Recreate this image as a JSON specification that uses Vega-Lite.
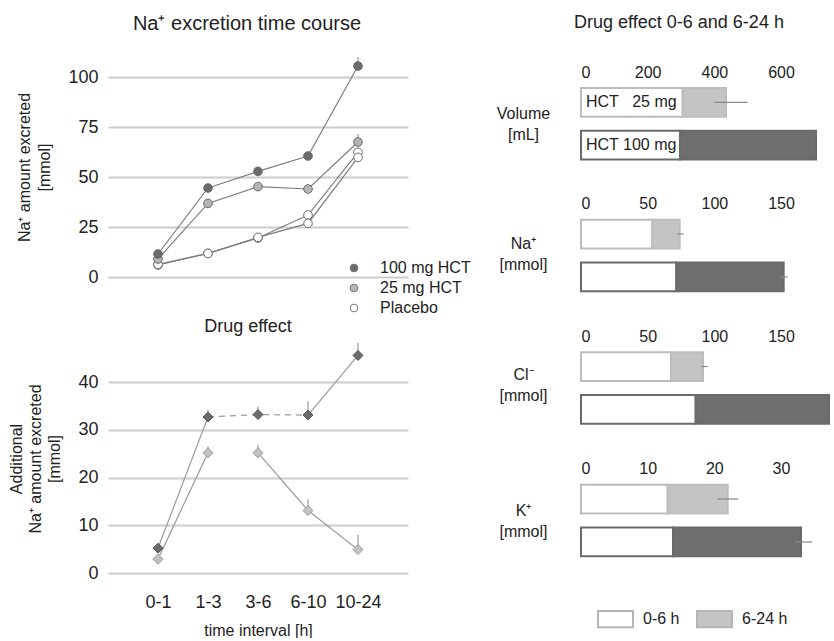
{
  "$schema": "https://vega.github.io/schema/vega-lite/v6.json",
  "padding": {"left": 8, "top": 14, "right": 0, "bottom": 0},
  "spacing": 25,
  "config": {
    "font": "Liberation Sans",
    "view": {"stroke": null},
    "title": {"color": "#222", "fontWeight": "normal", "font": "Liberation Sans"},
    "axis": {"labelColor": "#222", "titleColor": "#222", "labelFont": "Liberation Sans", "titleFont": "Liberation Sans", "titleFontWeight": "normal"},
    "legend": {"labelColor": "#222", "labelFont": "Liberation Sans"}
  },
  "datasets": {
    "tc": [
      {"t": "0-1", "s": "Placebo", "id": "p1", "v": 6.0, "hi": 6.0},
      {"t": "1-3", "s": "Placebo", "id": "p1", "v": 11.8, "hi": 11.8},
      {"t": "3-6", "s": "Placebo", "id": "p1", "v": 19.5, "hi": 19.5},
      {"t": "6-10", "s": "Placebo", "id": "p1", "v": 31.0, "hi": 31.0},
      {"t": "10-24", "s": "Placebo", "id": "p1", "v": 62.3, "hi": 62.3},
      {"t": "0-1", "s": "Placebo", "id": "p2", "v": 6.3, "hi": 6.3},
      {"t": "1-3", "s": "Placebo", "id": "p2", "v": 11.8, "hi": 11.8},
      {"t": "3-6", "s": "Placebo", "id": "p2", "v": 19.8, "hi": 19.8},
      {"t": "6-10", "s": "Placebo", "id": "p2", "v": 26.8, "hi": 26.8},
      {"t": "10-24", "s": "Placebo", "id": "p2", "v": 59.8, "hi": 59.8},
      {"t": "0-1", "s": "25 mg HCT", "id": "h25", "v": 9.0, "hi": 9.0},
      {"t": "1-3", "s": "25 mg HCT", "id": "h25", "v": 36.8, "hi": 36.8},
      {"t": "3-6", "s": "25 mg HCT", "id": "h25", "v": 45.2, "hi": 45.2},
      {"t": "6-10", "s": "25 mg HCT", "id": "h25", "v": 44.0, "hi": 44.0},
      {"t": "10-24", "s": "25 mg HCT", "id": "h25", "v": 67.5, "hi": 71.5},
      {"t": "0-1", "s": "100 mg HCT", "id": "h100", "v": 11.5, "hi": 11.5},
      {"t": "1-3", "s": "100 mg HCT", "id": "h100", "v": 44.5, "hi": 44.5},
      {"t": "3-6", "s": "100 mg HCT", "id": "h100", "v": 52.8, "hi": 52.8},
      {"t": "6-10", "s": "100 mg HCT", "id": "h100", "v": 60.5, "hi": 60.5},
      {"t": "10-24", "s": "100 mg HCT", "id": "h100", "v": 105.5, "hi": 110.0}
    ],
    "de": [
      {"t": "0-1", "g": "25 mg", "v": 2.9, "hi": 2.9},
      {"t": "1-3", "g": "25 mg", "v": 25.2, "hi": 26.5},
      {"t": "3-6", "g": "25 mg", "v": 25.2, "hi": 26.9},
      {"t": "6-10", "g": "25 mg", "v": 13.1, "hi": 15.4},
      {"t": "10-24", "g": "25 mg", "v": 4.9, "hi": 8.0},
      {"t": "0-1", "g": "100 mg", "v": 5.2, "hi": 5.2},
      {"t": "1-3", "g": "100 mg", "v": 32.7, "hi": 34.2},
      {"t": "3-6", "g": "100 mg", "v": 33.2, "hi": 34.9},
      {"t": "6-10", "g": "100 mg", "v": 33.1, "hi": 36.0},
      {"t": "10-24", "g": "100 mg", "v": 45.6, "hi": 48.2}
    ],
    "del": [
      {"t": "0-1", "seg": "a", "style": "solid", "v": 5.2},
      {"t": "1-3", "seg": "a", "style": "solid", "v": 32.7},
      {"t": "1-3", "seg": "b", "style": "dashed", "v": 32.7},
      {"t": "3-6", "seg": "b", "style": "dashed", "v": 33.2},
      {"t": "6-10", "seg": "b", "style": "dashed", "v": 33.1},
      {"t": "6-10", "seg": "c", "style": "solid", "v": 33.1},
      {"t": "10-24", "seg": "c", "style": "solid", "v": 45.6},
      {"t": "0-1", "seg": "d", "style": "solid", "v": 2.9},
      {"t": "1-3", "seg": "d", "style": "solid", "v": 25.2},
      {"t": "3-6", "seg": "e", "style": "solid", "v": 25.2},
      {"t": "6-10", "seg": "e", "style": "solid", "v": 13.1},
      {"t": "10-24", "seg": "e", "style": "solid", "v": 4.9}
    ],
    "bars": [
      {"p": "Volume", "dose": "25 mg", "cat": "0-6 h", "x0": 0, "x1": 305},
      {"p": "Volume", "dose": "25 mg", "cat": "6-24 h", "x0": 305, "x1": 435},
      {"p": "Volume", "dose": "100 mg", "cat": "0-6 h", "x0": 0, "x1": 297},
      {"p": "Volume", "dose": "100 mg", "cat": "6-24 h, 100 mg", "x0": 297, "x1": 705},
      {"p": "Na", "dose": "25 mg", "cat": "0-6 h", "x0": 0, "x1": 53.5},
      {"p": "Na", "dose": "25 mg", "cat": "6-24 h", "x0": 53.5, "x1": 74},
      {"p": "Na", "dose": "100 mg", "cat": "0-6 h", "x0": 0, "x1": 71.5},
      {"p": "Na", "dose": "100 mg", "cat": "6-24 h, 100 mg", "x0": 71.5, "x1": 152},
      {"p": "Cl", "dose": "25 mg", "cat": "0-6 h", "x0": 0, "x1": 67.5},
      {"p": "Cl", "dose": "25 mg", "cat": "6-24 h", "x0": 67.5, "x1": 91.5},
      {"p": "Cl", "dose": "100 mg", "cat": "0-6 h", "x0": 0, "x1": 86},
      {"p": "Cl", "dose": "100 mg", "cat": "6-24 h, 100 mg", "x0": 86, "x1": 186},
      {"p": "K", "dose": "25 mg", "cat": "0-6 h", "x0": 0, "x1": 13},
      {"p": "K", "dose": "25 mg", "cat": "6-24 h", "x0": 13, "x1": 22},
      {"p": "K", "dose": "100 mg", "cat": "0-6 h", "x0": 0, "x1": 13.8},
      {"p": "K", "dose": "100 mg", "cat": "6-24 h, 100 mg", "x0": 13.8, "x1": 33}
    ],
    "errs": [
      {"p": "Volume", "dose": "25 mg", "lo": 400, "hi": 500},
      {"p": "Na", "dose": "25 mg", "lo": 72, "hi": 77},
      {"p": "Na", "dose": "100 mg", "lo": 150, "hi": 155},
      {"p": "Cl", "dose": "25 mg", "lo": 90, "hi": 95},
      {"p": "K", "dose": "25 mg", "lo": 20.5, "hi": 23.6},
      {"p": "K", "dose": "100 mg", "lo": 32, "hi": 34.7}
    ],
    "labs": [
      {"dose": "25 mg", "label": "HCT\u00a0\u00a0\u00a025 mg"},
      {"dose": "100 mg", "label": "HCT 100 mg"}
    ]
  },
  "resolve": {"scale": {"fill": "independent", "stroke": "independent", "strokeDash": "independent"}, "legend": {"fill": "independent", "stroke": "independent"}},
  "hconcat": [
    {
      "spacing": 2,
      "resolve": {"scale": {"fill": "independent", "stroke": "independent"}, "legend": {"fill": "independent", "stroke": "independent"}},
      "vconcat": [
        {
          "title": {"text": "Na⁺ excretion time course", "fontSize": 20, "frame": "group", "dx": -11, "offset": 22},
          "width": 300,
          "height": 220,
          "data": {"name": "tc"},
          "encoding": {
            "x": {"field": "t", "type": "ordinal", "sort": ["0-1", "1-3", "3-6", "6-10", "10-24"], "scale": {"type": "point", "padding": 1.06}, "axis": null},
            "y": {"field": "v", "type": "quantitative", "scale": {"domain": [0, 110], "nice": false},
              "axis": {"values": [0, 25, 50, 75, 100], "grid": true, "gridColor": "#cccccc", "gridWidth": 2, "domain": false, "ticks": false, "labelFontSize": 18, "labelPadding": 10, "title": ["Na⁺ amount excreted", "[mmol]"], "titleFontSize": 16, "titlePadding": 15, "titleLineHeight": 20}}
          },
          "layer": [
            {"mark": {"type": "line", "color": "#7d7d7d", "strokeWidth": 1.2}, "encoding": {"detail": {"field": "id"}}},
            {"transform": [{"filter": "datum.hi > datum.v"}], "mark": {"type": "rule", "color": "#9a9a9a", "strokeWidth": 1.2}, "encoding": {"y2": {"field": "hi"}}},
            {"mark": {"type": "point", "filled": true, "size": 75, "stroke": "#6a6a6a", "strokeWidth": 1, "opacity": 1},
              "encoding": {"fill": {"field": "s", "type": "nominal", "scale": {"domain": ["100 mg HCT", "25 mg HCT", "Placebo"], "range": ["#6b6b6b", "#b5b5b5", "#ffffff"]},
                "legend": {"title": null, "orient": "none", "legendX": 238, "legendY": 203, "labelFontSize": 16, "symbolType": "circle", "symbolSize": 60, "symbolStrokeColor": "#777777", "symbolStrokeWidth": 1, "labelOffset": 18, "rowPadding": 4, "padding": 0}}}}
          ]
        },
        {
          "title": {"text": "Drug effect", "fontSize": 18, "frame": "group", "dx": -10, "offset": 6},
          "width": 300,
          "height": 229,
          "encoding": {
            "x": {"field": "t", "type": "ordinal", "sort": ["0-1", "1-3", "3-6", "6-10", "10-24"], "scale": {"type": "point", "padding": 1.06},
              "axis": {"labelFontSize": 18, "labelPadding": 20, "labelAngle": 0, "domain": false, "ticks": false, "grid": false, "title": "time interval [h]", "titleFontSize": 16, "titlePadding": 11}},
            "y": {"field": "v", "type": "quantitative", "scale": {"domain": [0, 48], "nice": false},
              "axis": {"values": [0, 10, 20, 30, 40], "grid": true, "gridColor": "#cccccc", "gridWidth": 2, "domain": false, "ticks": false, "labelFontSize": 18, "labelPadding": 10, "title": ["Additional", "Na⁺ amount excreted", "[mmol]"], "titleFontSize": 16, "titlePadding": 15, "titleLineHeight": 19}}
          },
          "layer": [
            {"data": {"name": "del"}, "mark": {"type": "line", "color": "#9a9a9a", "strokeWidth": 1.2},
              "encoding": {"detail": {"field": "seg"}, "strokeDash": {"field": "style", "type": "nominal", "scale": {"domain": ["solid", "dashed"], "range": [[1, 0], [6, 5]]}, "legend": null}}},
            {"data": {"name": "de"}, "transform": [{"filter": "datum.hi > datum.v"}], "mark": {"type": "rule", "color": "#9a9a9a", "strokeWidth": 1.2}, "encoding": {"y2": {"field": "hi"}}},
            {"data": {"name": "de"}, "mark": {"type": "point", "shape": "diamond", "filled": true, "size": 100, "opacity": 1, "strokeWidth": 1},
              "encoding": {
                "fill": {"field": "g", "type": "nominal", "scale": {"domain": ["100 mg", "25 mg"], "range": ["#6b6b6b", "#c2c2c2"]}, "legend": null},
                "stroke": {"field": "g", "type": "nominal", "scale": {"domain": ["100 mg", "25 mg"], "range": ["#555555", "#9a9a9a"]}, "legend": null}}}
          ]
        }
      ]
    },
    {
      "spacing": 34.5,
      "resolve": {"scale": {"fill": "independent", "stroke": "independent"}, "legend": {"fill": "independent", "stroke": "independent"}},
      "vconcat": [
        {
          "title": {"text": "Drug effect 0-6 and 6-24 h", "fontSize": 18, "frame": "group", "dx": -27, "offset": 25},
          "width": 250, "height": 102.6,
          "encoding": {"y": {"field": "dose", "type": "nominal", "sort": ["25 mg", "100 mg"], "scale": {"domain": ["25 mg", "100 mg"], "paddingInner": 0.33, "paddingOuter": 0.361, "align": 1},
            "axis": {"title": ["Volume", "[mL]"], "titleAngle": 0, "titleAlign": "center", "titleBaseline": "middle", "titlePadding": 37, "titleY": 56, "labels": false, "ticks": false, "domain": false, "titleFontSize": 16, "titleLineHeight": 21}}},
          "layer": [
            {"data": {"name": "bars"}, "transform": [{"filter": "datum.p === 'Volume'"}], "mark": {"type": "bar", "strokeWidth": 2},
              "encoding": {
                "x": {"field": "x0", "type": "quantitative", "scale": {"domain": [0, 750], "nice": false}, "axis": {"orient": "top", "offset": -29, "values": [0, 200, 400, 600], "grid": false, "domain": false, "ticks": false, "labelFontSize": 16, "labelPadding": 6, "title": null}},
                "x2": {"field": "x1"},
                "fill": {"field": "cat", "type": "nominal", "scale": {"domain": ["0-6 h", "6-24 h", "6-24 h, 100 mg"], "range": ["#ffffff", "#c4c4c4", "#6e6e6e"]}, "legend": null},
                "stroke": {"field": "dose", "type": "nominal", "scale": {"domain": ["25 mg", "100 mg"], "range": ["#bdbdbd", "#6a6a6a"]}, "legend": null}}},
            {"data": {"name": "errs"}, "transform": [{"filter": "datum.p === 'Volume'"}], "mark": {"type": "rule", "color": "#8a8a8a", "strokeWidth": 1.2},
              "encoding": {"x": {"field": "lo", "type": "quantitative", "axis": {"orient": "top", "offset": -29, "values": [0, 200, 400, 600], "grid": false, "domain": false, "ticks": false, "labelFontSize": 16, "labelPadding": 6, "title": null}}, "x2": {"field": "hi"}}},
            {"data": {"name": "labs"}, "mark": {"type": "text", "align": "left", "dx": 5, "fontSize": 16, "color": "#222"},
              "encoding": {"x": {"datum": 0, "type": "quantitative"}, "text": {"field": "label"}}}
          ]
        },
        {
          "width": 250, "height": 76,
          "encoding": {"y": {"field": "dose", "type": "nominal", "sort": ["25 mg", "100 mg"], "scale": {"domain": ["25 mg", "100 mg"], "paddingInner": 0.33, "paddingOuter": 0.05},
            "axis": {"title": ["Na⁺", "[mmol]"], "titleAngle": 0, "titleAlign": "center", "titleBaseline": "middle", "titlePadding": 37, "titleY": 26, "labels": false, "ticks": false, "domain": false, "titleFontSize": 16, "titleLineHeight": 21}}},
          "layer": [
            {"data": {"name": "bars"}, "transform": [{"filter": "datum.p === 'Na'"}], "mark": {"type": "bar", "strokeWidth": 2},
              "encoding": {
                "x": {"field": "x0", "type": "quantitative", "scale": {"domain": [0, 187.5], "nice": false}, "axis": {"orient": "top", "values": [0, 50, 100, 150], "grid": false, "domain": false, "ticks": false, "labelFontSize": 16, "labelPadding": 6, "title": null}},
                "x2": {"field": "x1"},
                "fill": {"field": "cat", "type": "nominal", "scale": {"domain": ["0-6 h", "6-24 h", "6-24 h, 100 mg"], "range": ["#ffffff", "#c4c4c4", "#6e6e6e"]}, "legend": null},
                "stroke": {"field": "dose", "type": "nominal", "scale": {"domain": ["25 mg", "100 mg"], "range": ["#bdbdbd", "#6a6a6a"]}, "legend": null}}},
            {"data": {"name": "errs"}, "transform": [{"filter": "datum.p === 'Na'"}], "mark": {"type": "rule", "color": "#8a8a8a", "strokeWidth": 1.2},
              "encoding": {"x": {"field": "lo", "type": "quantitative", "axis": {"orient": "top", "values": [0, 50, 100, 150], "grid": false, "domain": false, "ticks": false, "labelFontSize": 16, "labelPadding": 6, "title": null}}, "x2": {"field": "hi"}}}
          ]
        },
        {
          "width": 250, "height": 76,
          "encoding": {"y": {"field": "dose", "type": "nominal", "sort": ["25 mg", "100 mg"], "scale": {"domain": ["25 mg", "100 mg"], "paddingInner": 0.33, "paddingOuter": 0.05},
            "axis": {"title": ["Cl⁻", "[mmol]"], "titleAngle": 0, "titleAlign": "center", "titleBaseline": "middle", "titlePadding": 37, "titleY": 24, "labels": false, "ticks": false, "domain": false, "titleFontSize": 16, "titleLineHeight": 21}}},
          "layer": [
            {"data": {"name": "bars"}, "transform": [{"filter": "datum.p === 'Cl'"}], "mark": {"type": "bar", "strokeWidth": 2},
              "encoding": {
                "x": {"field": "x0", "type": "quantitative", "scale": {"domain": [0, 187.5], "nice": false}, "axis": {"orient": "top", "values": [0, 50, 100, 150], "grid": false, "domain": false, "ticks": false, "labelFontSize": 16, "labelPadding": 6, "title": null}},
                "x2": {"field": "x1"},
                "fill": {"field": "cat", "type": "nominal", "scale": {"domain": ["0-6 h", "6-24 h", "6-24 h, 100 mg"], "range": ["#ffffff", "#c4c4c4", "#6e6e6e"]}, "legend": null},
                "stroke": {"field": "dose", "type": "nominal", "scale": {"domain": ["25 mg", "100 mg"], "range": ["#bdbdbd", "#6a6a6a"]}, "legend": null}}},
            {"data": {"name": "errs"}, "transform": [{"filter": "datum.p === 'Cl'"}], "mark": {"type": "rule", "color": "#8a8a8a", "strokeWidth": 1.2},
              "encoding": {"x": {"field": "lo", "type": "quantitative", "axis": {"orient": "top", "values": [0, 50, 100, 150], "grid": false, "domain": false, "ticks": false, "labelFontSize": 16, "labelPadding": 6, "title": null}}, "x2": {"field": "hi"}}}
          ]
        },
        {
          "width": 250, "height": 76,
          "encoding": {"y": {"field": "dose", "type": "nominal", "sort": ["25 mg", "100 mg"], "scale": {"domain": ["25 mg", "100 mg"], "paddingInner": 0.33, "paddingOuter": 0.05},
            "axis": {"title": ["K⁺", "[mmol]"], "titleAngle": 0, "titleAlign": "center", "titleBaseline": "middle", "titlePadding": 37, "titleY": 28, "labels": false, "ticks": false, "domain": false, "titleFontSize": 16, "titleLineHeight": 21}}},
          "layer": [
            {"data": {"name": "bars"}, "transform": [{"filter": "datum.p === 'K'"}], "mark": {"type": "bar", "strokeWidth": 2},
              "encoding": {
                "x": {"field": "x0", "type": "quantitative", "scale": {"domain": [0, 37.5], "nice": false}, "axis": {"orient": "top", "values": [0, 10, 20, 30], "grid": false, "domain": false, "ticks": false, "labelFontSize": 16, "labelPadding": 6, "title": null}},
                "x2": {"field": "x1"},
                "fill": {"field": "cat", "type": "nominal", "scale": {"domain": ["0-6 h", "6-24 h", "6-24 h, 100 mg"], "range": ["#ffffff", "#c4c4c4", "#6e6e6e"]},
                  "legend": {"title": null, "orient": "none", "legendX": 16, "legendY": 118, "direction": "horizontal", "values": ["0-6 h", "6-24 h"], "symbolType": "M-1,-0.47H1V0.47H-1Z", "symbolSize": 1225, "symbolStrokeColor": "#b5b5b5", "symbolStrokeWidth": 2, "labelFontSize": 16, "labelOffset": 9, "columnPadding": 13, "padding": 0}},
                "stroke": {"field": "dose", "type": "nominal", "scale": {"domain": ["25 mg", "100 mg"], "range": ["#bdbdbd", "#6a6a6a"]}, "legend": null}}},
            {"data": {"name": "errs"}, "transform": [{"filter": "datum.p === 'K'"}], "mark": {"type": "rule", "color": "#8a8a8a", "strokeWidth": 1.2},
              "encoding": {"x": {"field": "lo", "type": "quantitative", "axis": {"orient": "top", "values": [0, 10, 20, 30], "grid": false, "domain": false, "ticks": false, "labelFontSize": 16, "labelPadding": 6, "title": null}}, "x2": {"field": "hi"}}}
          ]
        }
      ]
    }
  ]
}
